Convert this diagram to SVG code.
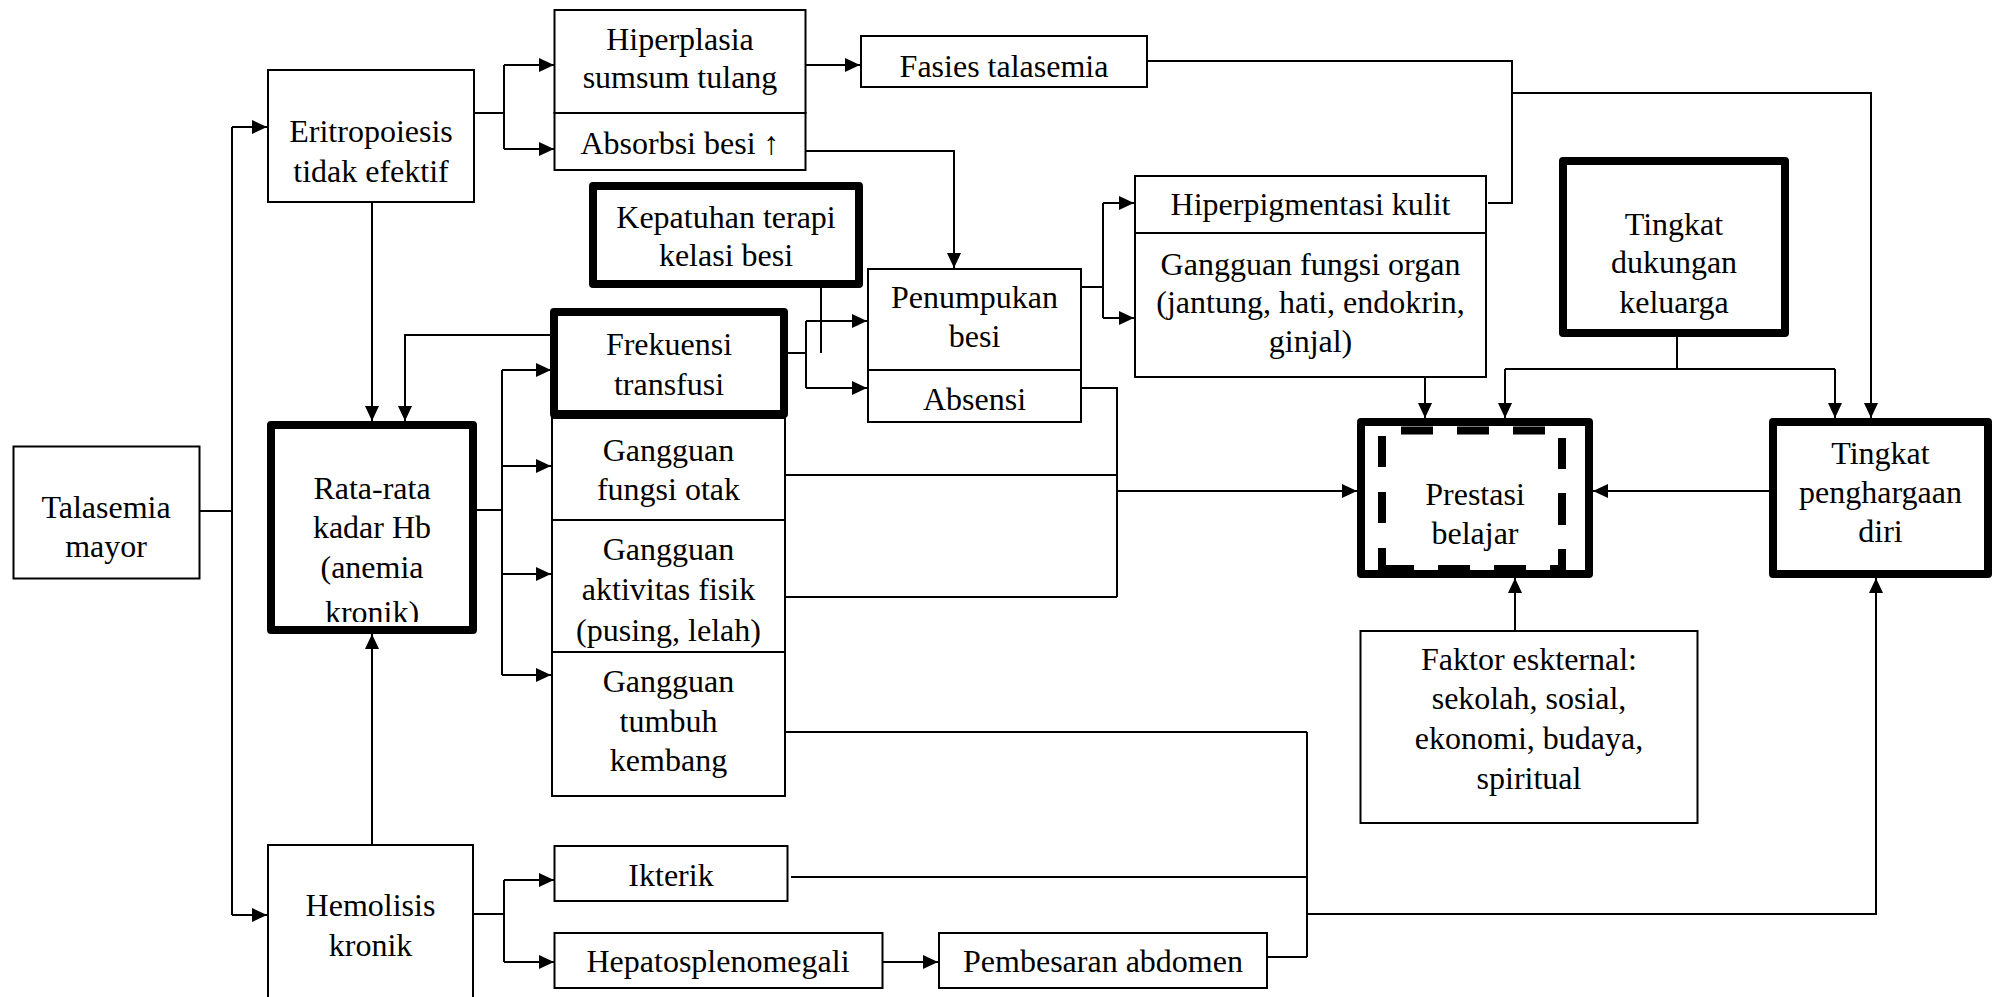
<svg xmlns="http://www.w3.org/2000/svg" width="2002" height="997" viewBox="0 0 2002 997">
<style>
.box{fill:#fff;stroke:#000;stroke-width:2}
.thick{fill:#fff;stroke:#000;stroke-width:8;stroke-linejoin:round}
.t{font-family:"Liberation Serif","Times New Roman",serif;font-size:32px;text-anchor:middle;fill:#000}
.c{fill:none;stroke:#000;stroke-width:2}
.a{marker-end:url(#ah)}
.dash{fill:none;stroke:#000;stroke-width:8}
</style>
<defs>
<marker id="ah" markerUnits="userSpaceOnUse" markerWidth="16" markerHeight="14" refX="15" refY="7" orient="auto"><path d="M0,0 L15,7 L0,14 z" fill="#000"/></marker>
<clipPath id="hbclip"><rect x="275" y="429" width="194" height="193"/></clipPath>
</defs>
<rect width="2002" height="997" fill="#fff"/>

<g id="talasemia">
<rect class="box" x="13.5" y="446.5" width="186" height="132"/>
<text class="t" x="106" y="518">Talasemia</text>
<text class="t" x="106" y="557">mayor</text>
</g>

<g id="eritropoiesis">
<rect class="box" x="268" y="70" width="206" height="132"/>
<text class="t" x="371" y="142">Eritropoiesis</text>
<text class="t" x="371" y="182">tidak efektif</text>
</g>

<g id="hiperplasia">
<rect class="box" x="554.5" y="10" width="251" height="103"/>
<text class="t" x="680" y="50">Hiperplasia</text>
<text class="t" x="680" y="88">sumsum tulang</text>
</g>

<g id="absorbsi">
<rect class="box" x="554.5" y="113" width="251" height="57"/>
<text class="t" x="680" y="154">Absorbsi besi ↑</text>
</g>

<g id="fasies">
<rect class="box" x="861" y="36" width="286" height="51"/>
<text class="t" x="1004" y="77">Fasies talasemia</text>
</g>

<g id="kepatuhan">
<rect class="thick" x="593" y="186" width="266" height="98"/>
<text class="t" x="726" y="228">Kepatuhan terapi</text>
<text class="t" x="726" y="266">kelasi besi</text>
</g>

<g id="gangguan-otak">
<rect class="box" x="552" y="418" width="233" height="102"/>
<text class="t" x="668.5" y="461">Gangguan</text>
<text class="t" x="668.5" y="500">fungsi otak</text>
</g>

<g id="frekuensi">
<rect class="thick" x="554" y="312" width="230" height="102"/>
<text class="t" x="669" y="355">Frekuensi</text>
<text class="t" x="669" y="395">transfusi</text>
</g>

<g id="gangguan-aktivitas">
<rect class="box" x="552" y="520" width="233" height="132"/>
<text class="t" x="668.5" y="560">Gangguan</text>
<text class="t" x="668.5" y="600">aktivitas fisik</text>
<text class="t" x="668.5" y="641">(pusing, lelah)</text>
</g>

<g id="gangguan-tumbuh">
<rect class="box" x="552" y="652" width="233" height="144"/>
<text class="t" x="668.5" y="692">Gangguan</text>
<text class="t" x="668.5" y="732">tumbuh</text>
<text class="t" x="668.5" y="771">kembang</text>
</g>

<g id="penumpukan">
<rect class="box" x="868" y="269" width="213" height="101"/>
<text class="t" x="974.5" y="308">Penumpukan</text>
<text class="t" x="974.5" y="347">besi</text>
</g>

<g id="absensi">
<rect class="box" x="868" y="370" width="213" height="52"/>
<text class="t" x="974.5" y="410">Absensi</text>
</g>

<g id="hiperpigmentasi">
<rect class="box" x="1135" y="176" width="351" height="57"/>
<text class="t" x="1310.5" y="215">Hiperpigmentasi kulit</text>
</g>

<g id="gangguan-organ">
<rect class="box" x="1135" y="233" width="351" height="144"/>
<text class="t" x="1310.5" y="275">Gangguan fungsi organ</text>
<text class="t" x="1310.5" y="313">(jantung, hati, endokrin,</text>
<text class="t" x="1310.5" y="352">ginjal)</text>
</g>

<g id="dukungan">
<rect class="thick" x="1563" y="161" width="222" height="172"/>
<text class="t" x="1674" y="235">Tingkat</text>
<text class="t" x="1674" y="273">dukungan</text>
<text class="t" x="1674" y="313">keluarga</text>
</g>

<g id="rata-rata-hb">
<rect class="thick" x="271" y="425" width="202" height="205"/>
<g clip-path="url(#hbclip)">
<text class="t" x="372" y="499">Rata-rata</text>
<text class="t" x="372" y="538">kadar Hb</text>
<text class="t" x="372" y="578">(anemia</text>
<text class="t" x="372" y="623">kronik)</text>
</g>
</g>

<g id="hemolisis">
<rect class="box" x="268" y="845" width="205" height="170"/>
<text class="t" x="370.5" y="916">Hemolisis</text>
<text class="t" x="370.5" y="956">kronik</text>
</g>

<g id="ikterik">
<rect class="box" x="554.5" y="846" width="233" height="55"/>
<text class="t" x="671" y="885.5">Ikterik</text>
</g>

<g id="hepatosplenomegali">
<rect class="box" x="554.5" y="933" width="328" height="55"/>
<text class="t" x="718" y="972">Hepatosplenomegali</text>
</g>

<g id="pembesaran-abdomen">
<rect class="box" x="939" y="933" width="328" height="55"/>
<text class="t" x="1103" y="972">Pembesaran abdomen</text>
</g>

<g id="prestasi">
<rect class="thick" x="1361" y="422" width="228" height="152"/>
<path class="dash" d="M1401,430.5H1433M1457,430.5H1489M1513,430.5H1545M1382,436V467M1382,492V523M1382,548V569M1562,438V469M1562,493V525M1562,549V569M1378,569H1414M1438,569H1470M1494,569H1526M1550,569H1566"/>
<text class="t" x="1475" y="505">Prestasi</text>
<text class="t" x="1475" y="544">belajar</text>
</g>

<g id="penghargaan">
<rect class="thick" x="1773" y="422" width="215" height="152"/>
<text class="t" x="1880.5" y="464">Tingkat</text>
<text class="t" x="1880.5" y="503">penghargaan</text>
<text class="t" x="1880.5" y="542">diri</text>
</g>

<g id="faktor-eksternal">
<rect class="box" x="1360.5" y="631" width="337" height="192"/>
<text class="t" x="1529" y="670">Faktor eskternal:</text>
<text class="t" x="1529" y="709">sekolah, sosial,</text>
<text class="t" x="1529" y="749">ekonomi, budaya,</text>
<text class="t" x="1529" y="789">spiritual</text>
</g>

<g id="connectors">
<path class="c" d="M200,511H232M232,127V915"/>
<path class="c a" d="M232,127H267"/>
<path class="c a" d="M232,915H267"/>
<path class="c" d="M475,113H504M504,65V149"/>
<path class="c a" d="M504,65H554"/>
<path class="c a" d="M504,149H554"/>
<path class="c a" d="M806,65H860"/>
<path class="c" d="M1148,61H1512V203H1488"/>
<path class="c a" d="M1512,93H1871V418"/>
<path class="c a" d="M806,151H954V268"/>
<path class="c a" d="M372,203V421"/>
<path class="c a" d="M550,335H405V421"/>
<path class="c" d="M477,510H502M502,370V675"/>
<path class="c a" d="M502,370H551"/>
<path class="c a" d="M502,466H551"/>
<path class="c a" d="M502,574H551"/>
<path class="c a" d="M502,675H551"/>
<path class="c a" d="M372,844V634"/>
<path class="c" d="M474,914H504M504,880V962"/>
<path class="c a" d="M504,880H554"/>
<path class="c a" d="M504,962H554"/>
<path class="c a" d="M883,962H938"/>
<path class="c" d="M821,288V353"/>
<path class="c" d="M788,353H806M806,321V388"/>
<path class="c a" d="M806,321H867"/>
<path class="c a" d="M806,388H867"/>
<path class="c" d="M1082,287H1103M1103,203V318"/>
<path class="c a" d="M1103,203H1134"/>
<path class="c a" d="M1103,318H1134"/>
<path class="c a" d="M1425,378V418"/>
<path class="c" d="M1677,337V369M1505,369H1835"/>
<path class="c a" d="M1505,369V418"/>
<path class="c a" d="M1835,369V418"/>
<path class="c" d="M1082,388H1117V597M786,475H1117M786,597H1117"/>
<path class="c a" d="M1117,491H1357"/>
<path class="c a" d="M1769,491H1593"/>
<path class="c a" d="M1515,631V578"/>
<path class="c" d="M786,732H1307M791,877H1307M1268,957H1307M1307,732V957"/>
<path class="c a" d="M1307,914H1876V578"/>
</g>
</svg>
